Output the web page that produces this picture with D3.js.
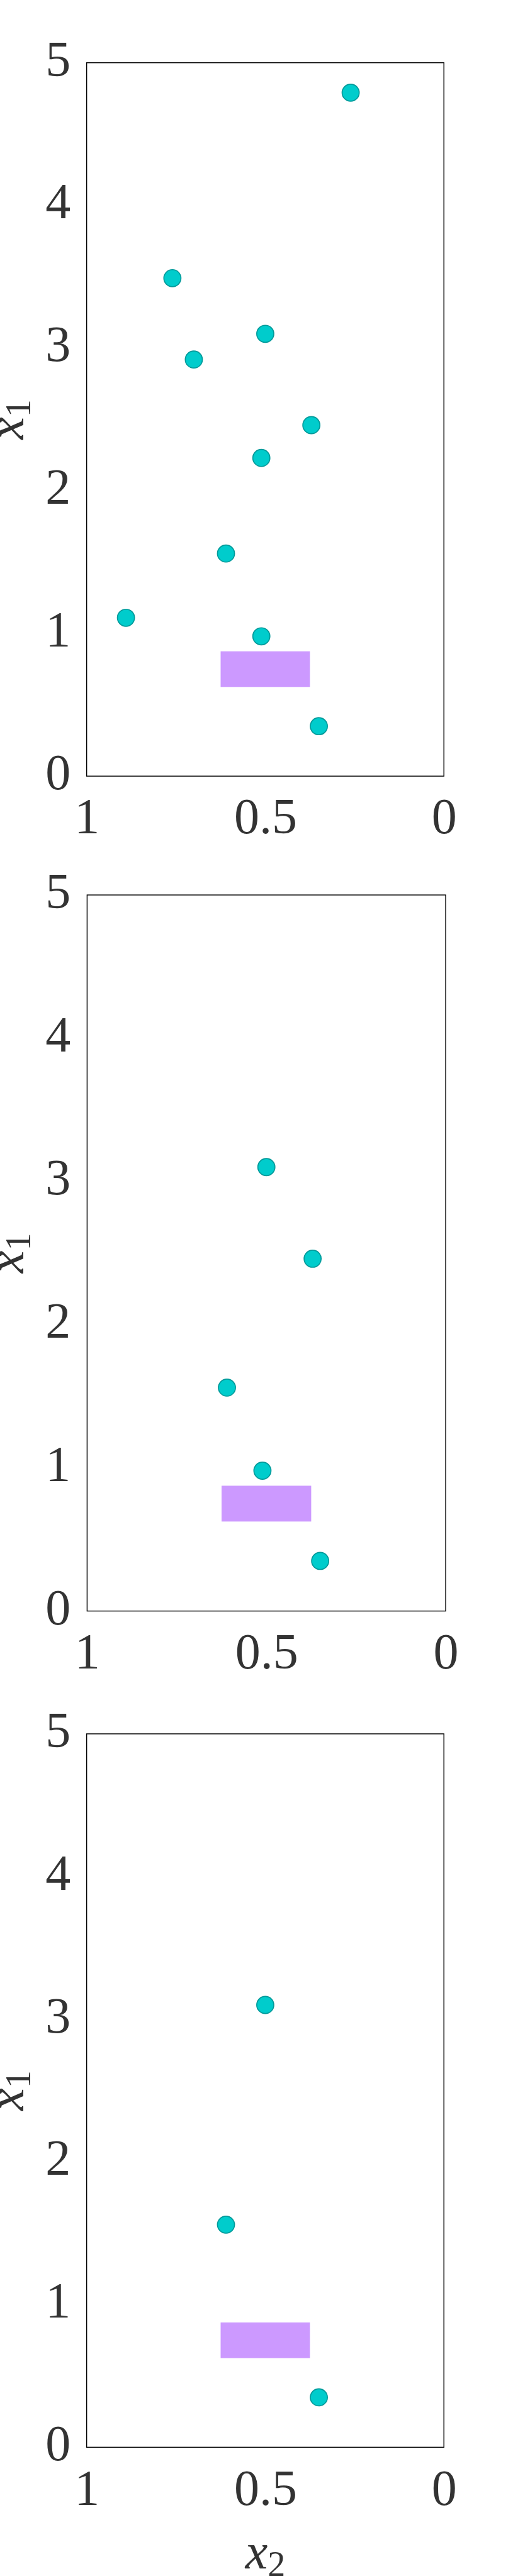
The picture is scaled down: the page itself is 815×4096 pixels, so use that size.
<!DOCTYPE html>
<html>
<head>
<meta charset="utf-8">
<script src="https://cdn.jsdelivr.net/npm/d3@7/dist/d3.min.js"></script>
<style>
  html, body { margin: 0; padding: 0; background: #ffffff; }
  svg { display: block; }
</style>
</head>
<body>
<svg id="chart" width="815" height="4096"></svg>
<script>
// ---- data ----
const xTicks = [1, 0.5, 0];
const yTicks = [0, 1, 2, 3, 4, 5];
const xTickLabels = ["1", "0.5", "0"];
const yTickLabels = ["0", "1", "2", "3", "4", "5"];

const panel1X2 = [0.261, 0.760, 0.500, 0.700, 0.371, 0.511, 0.610, 0.890, 0.511, 0.350];
const panel1X1 = [4.79, 3.49, 3.10, 2.92, 2.46, 2.23, 1.56, 1.11, 0.98, 0.35];
const panel2X2 = [0.500, 0.371, 0.610, 0.511, 0.350];
const panel2X1 = [3.10, 2.46, 1.56, 0.98, 0.35];
const panel3X2 = [0.500, 0.610, 0.350];
const panel3X1 = [3.10, 1.56, 0.35];

const boxX2 = [0.375, 0.625];
const boxX1 = [0.625, 0.875];

// ---- layout (reference pixel coordinates, scaled by S) ----
const S = 0.7024;
const layout = [
  {left: 196, right: 1004, top: 142,  bottom: 1757, xs: panel1X2, ys: panel1X1, xlabel: false},
  {left: 197, right: 1008, top: 2026, bottom: 3647, xs: panel2X2, ys: panel2X1, xlabel: false},
  {left: 196, right: 1004, top: 3925, bottom: 5540, xs: panel3X2, ys: panel3X1, xlabel: true}
];

const FONT = "'Liberation Serif', 'DejaVu Serif', serif";
const TEXT = "#333333";
const fs = 114 * S;

const svg = d3.select("#chart");

layout.forEach((p) => {
  const L = p.left * S, R = p.right * S, T = p.top * S, B = p.bottom * S;
  const x = d3.scaleLinear().domain([1, 0]).range([L, R]);
  const y = d3.scaleLinear().domain([0, 5]).range([B, T]);

  const g = svg.append("g");

  // box
  g.append("rect")
    .attr("x", L).attr("y", T)
    .attr("width", R - L).attr("height", B - T)
    .attr("fill", "#ffffff")
    .attr("stroke", "#000000")
    .attr("stroke-width", 1.4);

  // highlighted region
  g.append("rect")
    .attr("x", x(boxX2[1]))
    .attr("y", y(boxX1[1]))
    .attr("width", x(boxX2[0]) - x(boxX2[1]))
    .attr("height", y(boxX1[0]) - y(boxX1[1]))
    .attr("fill", "#CC99FF");

  // points
  g.selectAll("circle.pt")
    .data(p.xs.map((v, i) => ({x2: v, x1: p.ys[i]})))
    .enter().append("circle")
    .attr("class", "pt")
    .attr("cx", d => x(d.x2))
    .attr("cy", d => y(d.x1))
    .attr("r", 19.3 * S)
    .attr("fill", "#00CCCC")
    .attr("stroke", "#009999")
    .attr("stroke-width", 2.4 * S);

  // x axis
  const xAxis = d3.axisBottom(x)
    .tickValues(xTicks)
    .tickSize(0)
    .tickFormat((d, i) => xTickLabels[i]);
  const gx = g.append("g").attr("transform", `translate(0,${B})`).call(xAxis);
  gx.select(".domain").remove();
  gx.selectAll("text")
    .attr("y", 130 * S)
    .attr("dy", null)
    .attr("fill", TEXT)
    .style("font-family", FONT)
    .style("font-size", fs + "px");

  // y axis
  const yAxis = d3.axisLeft(y)
    .tickValues(yTicks)
    .tickSize(0)
    .tickFormat((d, i) => yTickLabels[i]);
  const gy = g.append("g").attr("transform", `translate(${L},0)`).call(yAxis);
  gy.select(".domain").remove();
  gy.selectAll("text")
    .attr("x", -(p.left - 160) * S)
    .attr("dy", null)
    .attr("y", 29 * S)
    .attr("text-anchor", "end")
    .attr("fill", TEXT)
    .style("font-family", FONT)
    .style("font-size", fs + "px");

  // y label  x_1
  const yl = g.append("text")
    .attr("transform", `translate(${53 * S},${(T + B) / 2}) rotate(-90)`)
    .attr("text-anchor", "middle")
    .attr("fill", TEXT)
    .style("font-family", FONT)
    .style("font-size", fs + "px");
  yl.append("tspan").style("font-style", "italic").text("x");
  yl.append("tspan").attr("dy", 16 * S).style("font-size", (fs * 0.7) + "px").text("1");

  if (p.xlabel) {
    const xl = g.append("text")
      .attr("x", (L + R) / 2)
      .attr("y", (p.bottom + 275) * S)
      .attr("text-anchor", "middle")
      .attr("fill", TEXT)
      .style("font-family", FONT)
      .style("font-size", fs + "px");
    xl.append("tspan").style("font-style", "italic").text("x");
    xl.append("tspan").attr("dy", 16 * S).style("font-size", (fs * 0.7) + "px").text("2");
  }
});
</script>
</body>
</html>
